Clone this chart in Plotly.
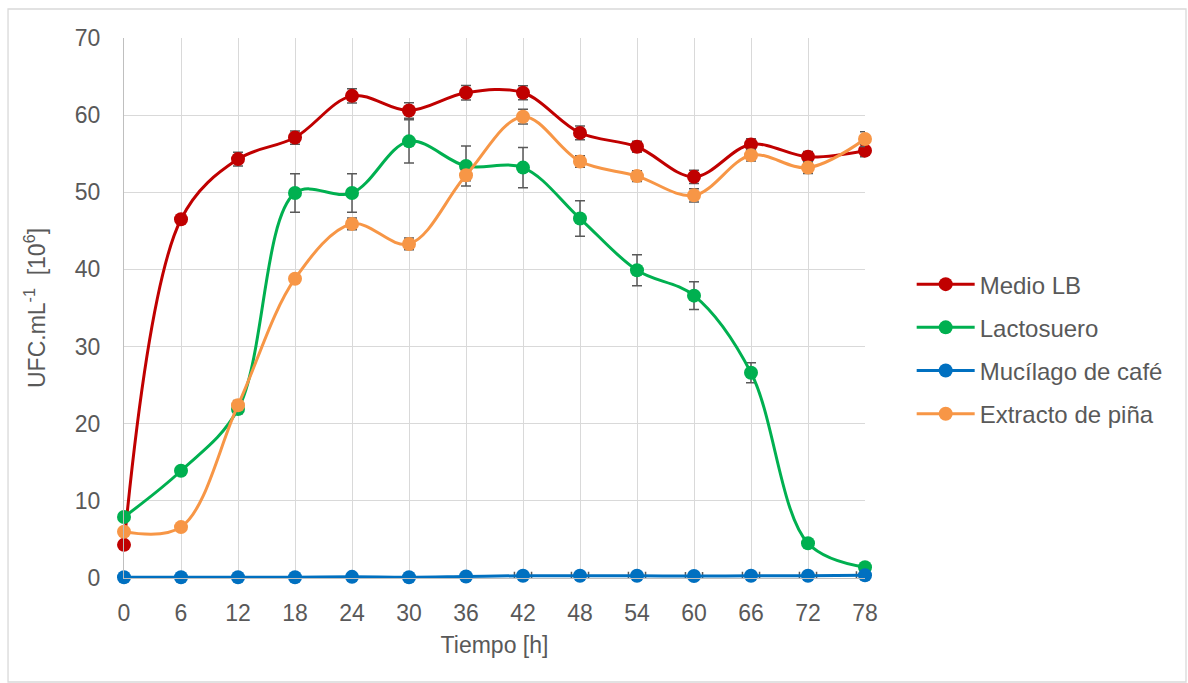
import plotly.graph_objects as go

# Tiempo de muestreo (h)
tiempo = [0, 6, 12, 18, 24, 30, 36, 42, 48, 54, 60, 66, 72, 78]

# Recuento UFC.mL-1 [10^6] por medio de cultivo
medio_lb = [4.3, 46.5, 54.3, 57.1, 62.5, 60.6, 62.9, 62.9, 57.7, 55.9, 52.0, 56.2, 54.6, 55.4]
lactosuero = [7.9, 13.9, 21.9, 49.9, 49.9, 56.6, 53.4, 53.2, 46.6, 39.9, 36.6, 26.6, 4.5, 1.4]
mucilago = [0.1, 0.1, 0.1, 0.1, 0.15, 0.1, 0.2, 0.3, 0.3, 0.3, 0.25, 0.3, 0.3, 0.35]
extracto_pina = [6.0, 6.6, 22.4, 38.8, 45.9, 43.3, 52.2, 59.8, 54.0, 52.1, 49.6, 54.8, 53.2, 56.9]

# Desviaciones estándar
err_medio_lb = [0, 0.5, 0.9, 0.86, 0.93, 1.0, 0.93, 0.9, 0.9, 0.7, 0.85, 0.75, 0.7, 0.8]
err_lactosuero = [0, 0.3, 0.6, 2.5, 2.5, 2.8, 2.6, 2.6, 2.3, 2.0, 1.8, 1.3, 0.3, 0.2]
err_mucilago_x = [0, 0, 0, 0, 0, 0, 0, 0.9, 0.9, 0.9, 0.9, 0.9, 0.9, 0.9]
err_extracto = [0, 0, 0.6, 0.5, 0.76, 0.76, 0.7, 0.95, 0.75, 0.7, 0.85, 0.75, 0.75, 0.95]

series = [
    ("Medio LB", medio_lb, err_medio_lb, None, "#C00000"),
    ("Lactosuero", lactosuero, err_lactosuero, None, "#00B050"),
    ("Mucílago de café", mucilago, None, err_mucilago_x, "#0070C0"),
    ("Extracto de piña", extracto_pina, err_extracto, None, "#F79646"),
]

FONT = "Liberation Sans, Arial, sans-serif"
TXT = "#595959"
ERR = "#595959"

fig = go.Figure()
for i, (name, ys, ey, ex, color) in enumerate(series):
    kw = {}
    if ey is not None:
        kw["error_y"] = dict(type="data", array=ey, visible=True, color=ERR,
                             thickness=1.5, width=5)
    if ex is not None:
        kw["error_x"] = dict(type="data", array=ex, visible=True, color=ERR,
                             thickness=1.5, width=4)
    fig.add_trace(go.Scatter(
        x=tiempo, y=ys, name=name, mode="lines+markers",
        line=dict(color=color, width=3, shape="spline", smoothing=1.0),
        marker=dict(color=color, size=14),
        legendgroup=f"g{i}", cliponaxis=False,
        **kw,
    ))

fig.update_layout(
    width=1188, height=683,
    margin=dict(l=124, r=323, t=38, b=105),
    paper_bgcolor="white", plot_bgcolor="white",
    font=dict(family=FONT, size=23, color=TXT),
    showlegend=True,
    legend=dict(x=1.063, xanchor="left", y=0.424, yanchor="middle",
                font=dict(family=FONT, size=24, color=TXT),
                tracegroupgap=9, itemwidth=58,
                bgcolor="rgba(0,0,0,0)"),
    xaxis=dict(
        range=[0, 78], tickvals=tiempo, ticktext=[str(t) for t in tiempo],
        showgrid=True, gridcolor="#D9D9D9", gridwidth=1.3,
        showline=True, linecolor="#BFBFBF", linewidth=1.3,
        zeroline=False, ticks="", ticklabelstandoff=14,
        tickfont=dict(family=FONT, size=23, color=TXT),
        title=dict(text="Tiempo [h]", font=dict(family=FONT, size=23, color=TXT),
                   standoff=12),
    ),
    yaxis=dict(
        range=[0, 70], dtick=10,
        showgrid=True, gridcolor="#D9D9D9", gridwidth=1.3,
        showline=True, linecolor="#BFBFBF", linewidth=1.3,
        zeroline=False, ticks="", ticklabelstandoff=18,
        tickfont=dict(family=FONT, size=23, color=TXT),
        title=dict(text="UFC.mL<sup>-1</sup>  [10<sup>6</sup>]",
                   font=dict(family=FONT, size=23, color=TXT), standoff=22),
    ),
    shapes=[dict(type="rect", xref="paper", yref="paper",
                 x0=-0.1565, x1=1.4332, y0=-0.1926, y1=1.0537,
                 line=dict(color="#D9D9D9", width=1.3), layer="below")],
)

fig.write_html("out.html")
